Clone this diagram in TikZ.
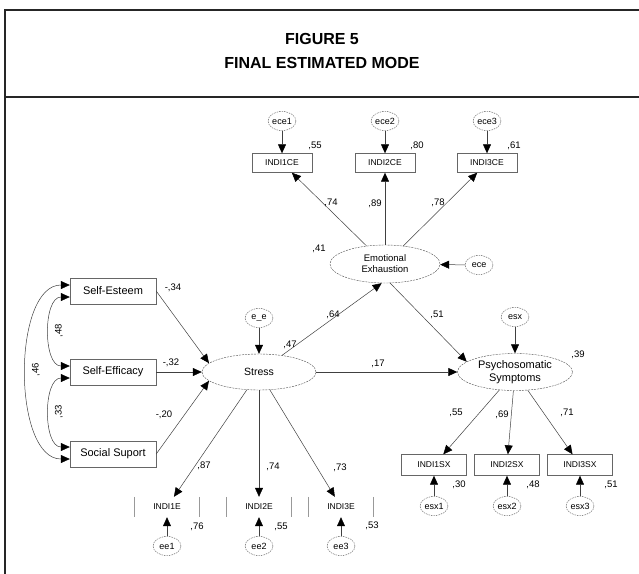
\documentclass[tikz,border=0pt]{standalone}
\usepackage{fontspec}
\setmainfont{Liberation Sans}
\usetikzlibrary{shapes.geometric,arrows.meta,calc}
\begin{document}
\begin{tikzpicture}[x=1pt,y=-1pt]
        \tikzstyle{every node}=[inner sep=0pt];
        \tikzstyle{obs}=[draw=black!60,rectangle,minimum width=86pt,minimum height=26pt,font=\fontsize{11}{13}\selectfont];
        \tikzstyle{ind}=[draw=black!60,rectangle,minimum width=60pt,minimum height=19pt,font=\fontsize{8.5}{10}\selectfont];
        \tikzstyle{lat}=[draw=black!70,dash pattern=on 2pt off 1pt,ellipse,align=center];
        \tikzstyle{err}=[draw=black!70,dash pattern=on 1.5pt off 1pt,ellipse,minimum width=28pt,minimum height=19pt,font=\fontsize{9}{10}\selectfont];
        \tikzstyle{num}=[font=\fontsize{9.5}{10}\selectfont];
        \tikzstyle{reg}=[draw=black!75,line width=0.5pt,-{Triangle[length=9pt,width=8pt,black]}];
        \tikzstyle{cov}=[draw=black!75,line width=0.5pt,{Triangle[length=9pt,width=8pt,black]}-{Triangle[length=9pt,width=8pt,black]}];
        \useasboundingbox (0,0) rectangle (639,573);
        %frame and title
        \draw[line width=2.5pt,black!85] (645,10) -- (5,10) -- (5,580);
        \draw[line width=2.5pt,black!85] (5,97) -- (645,97);
        \node[font=\fontsize{16}{20}\selectfont\bfseries] (fig) at (322,39) {FIGURE 5};
        \node[font=\fontsize{16}{20}\selectfont\bfseries] (ttl) at (322,63) {FINAL ESTIMATED MODE};
        %exogenous and latent variables
        \node[obs] (se) at (113,291) {Self-Esteem};
        \node[obs] (sef) at (113,372) {Self-Efficacy};
        \node[obs] (ss) at (113,454) {Social Suport};
        \node[lat,minimum width=114pt,minimum height=36pt,font=\fontsize{10.5}{12}\selectfont] (st) at (259,372) {Stress};
        \node[err] (ze) at (259,318) {e\_e};
        \node[lat,minimum width=110pt,minimum height=38pt,font=\fontsize{9.5}{11}\selectfont] (ex) at (385,264) {Emotional\\Exhaustion};
        \node[err] (ece) at (479,265) {ece};
        \node[lat,minimum width=115pt,minimum height=37pt,font=\fontsize{11}{13}\selectfont] (ps) at (515,372) {Psychosomatic\\Symptoms};
        \node[err] (esx) at (515,317) {esx};
        %indicators
        \foreach \i/\x in {1/282,2/385,3/487} {
            \node[ind] (ce\i) at (\x,163) {INDI\i CE};
            \node[err] (ece\i) at (\x,121) {ece\i};
            \draw[reg] (ece\i) -- (ce\i);
            \draw[reg] (ex) -- (ce\i);
        }
        \foreach \i/\x in {1/434,2/507,3/580} {
            \node[ind,minimum width=65pt,minimum height=21pt] (sx\i) at (\x,465) {INDI\i SX};
            \node[err] (esx\i) at (\x,506) {esx\i};
            \draw[reg] (esx\i) -- (sx\i);
            \draw[reg] (ps) -- (sx\i);
        }
        \foreach \i/\x in {1/167,2/259,3/341} {
            \node[ind,draw=none,minimum width=65pt,minimum height=20pt] (e\i) at (\x,507) {INDI\i E};
            \draw[black!40,line width=0.8pt] (e\i.north west) -- (e\i.south west) (e\i.north east) -- (e\i.south east);
            \node[err] (ee\i) at (\x,546) {ee\i};
            \draw[reg] (ee\i) -- (e\i);
            \draw[reg] (st) -- (e\i);
        }
        %structural paths
        \draw[reg] (se.east) -- (st.170);
        \draw[reg] (sef.east) -- (st.west);
        \draw[reg] (ss.east) -- (st.190);
        \draw[reg] (ze) -- (st);
        \draw[reg] (st) -- (ex.260);
        \draw[reg] (ece) -- (ex);
        \draw[reg] (ex.285) -- (ps.168);
        \draw[reg] (st.east) -- (ps.west);
        \draw[reg] (esx) -- (ps);
        %covariances
        \draw[cov] ($(se.west)+(0,6)$) to[out=180,in=180] ($(sef.west)+(0,-6)$);
        \draw[cov] ($(sef.west)+(0,6)$) to[out=180,in=180] ($(ss.west)+(0,-7)$);
        \draw[cov] ($(se.west)+(0,-6)$) to[out=180,in=180,looseness=0.85] ($(ss.west)+(0,5)$);
        %estimates
        \node[num] (n34) at (173,288) {-,34};
        \node[num] (n32) at (171,363) {-,32};
        \node[num] (n20) at (164,415) {-,20};
        \node[num] (n47) at (290,345) {,47};
        \node[num,rotate=90] (n48) at (59,331) {,48};
        \node[num,rotate=90] (n46) at (36,370) {,46};
        \node[num,rotate=90] (n33) at (59,412) {,33};
        \node[num] (n87) at (204,466) {,87};
        \node[num] (n74e) at (273,467) {,74};
        \node[num] (n73) at (340,468) {,73};
        \node[num] (n76) at (197,527) {,76};
        \node[num] (n55e) at (281,527) {,55};
        \node[num] (n53) at (372,526) {,53};
        \node[num] (n55c) at (315,146) {,55};
        \node[num] (n80) at (417,146) {,80};
        \node[num] (n61) at (514,146) {,61};
        \node[num] (n74c) at (331,203) {,74};
        \node[num] (n89) at (375,204) {,89};
        \node[num] (n78) at (438,203) {,78};
        \node[num] (n41) at (319,249) {,41};
        \node[num] (n64) at (333,315) {,64};
        \node[num] (n51) at (437,315) {,51};
        \node[num] (n17) at (378,364) {,17};
        \node[num] (n39) at (578,355) {,39};
        \node[num] (n55s) at (456,413) {,55};
        \node[num] (n69) at (502,415) {,69};
        \node[num] (n71) at (567,413) {,71};
        \node[num] (n30) at (459,485) {,30};
        \node[num] (n48s) at (533,485) {,48};
        \node[num] (n51s) at (611,485) {,51};
    \end{tikzpicture}
\end{document}
